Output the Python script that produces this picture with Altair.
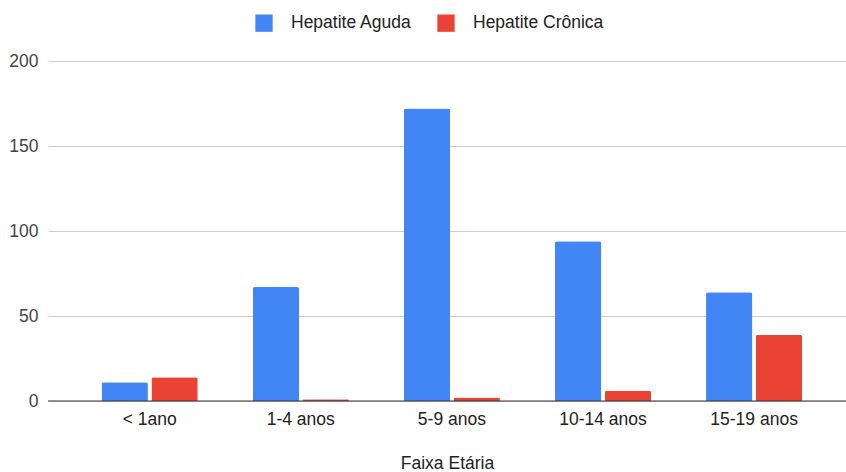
import altair as alt
import pandas as pd

# Age groups and case counts per hepatitis type
faixas = ["< 1ano", "1-4 anos", "5-9 anos", "10-14 anos", "15-19 anos"]
aguda = [11, 67, 172, 94, 64]
cronica = [14, 1, 2, 6, 39]
series = ["Hepatite Aguda", "Hepatite Crônica"]
colors = ["#4285F4", "#EA4335"]

rows = []
for f, a, c in zip(faixas, aguda, cronica):
    rows.append({"faixa": f, "tipo": series[0], "casos": a})
    rows.append({"faixa": f, "tipo": series[1], "casos": c})
df = pd.DataFrame(rows)

FONT = "Liberation Sans"
FS = 17.5

chart = (
    alt.Chart(df)
    .mark_bar(cornerRadiusTopLeft=2, cornerRadiusTopRight=2)
    .encode(
        x=alt.X(
            "faixa:N",
            sort=faixas,
            title="Faixa Etária",
            scale=alt.Scale(paddingInner=0.364, paddingOuter=0.3225, align=0.55),
            axis=alt.Axis(
                labelAngle=0,
                ticks=False,
                domain=False,
                grid=False,
                labelPadding=9,
                titlePadding=27,
                labelFontSize=FS,
                titleFontSize=FS,
                labelColor="#222222",
                titleColor="#222222",
                titleFontWeight="normal",
            ),
        ),
        xOffset=alt.XOffset(
            "tipo:N", sort=series, scale=alt.Scale(paddingInner=0.07)
        ),
        y=alt.Y(
            "casos:Q",
            title=None,
            scale=alt.Scale(domain=[0, 200]),
            axis=alt.Axis(
                values=[0, 50, 100, 150, 200],
                ticks=False,
                domain=False,
                labelPadding=10,
                labelFontSize=FS,
                labelColor="#444444",
                gridColor="#cccccc",
                gridWidth=1,
            ),
        ),
        color=alt.Color(
            "tipo:N",
            sort=series,
            scale=alt.Scale(domain=series, range=colors),
            legend=alt.Legend(
                title=None,
                orient="none",
                direction="horizontal",
                legendX=207,
                legendY=-47,
                symbolType="square",
                symbolSize=300,
                symbolStrokeWidth=0,
                labelFontSize=FS,
                labelColor="#222222",
                labelOffset=18,
                columnPadding=25,
            ),
        ),
    )
)

baseline = (
    alt.Chart(pd.DataFrame({"y": [0]}))
    .mark_rule(color="#333333", strokeWidth=1)
    .encode(y="y:Q")
)

final = (
    alt.layer(chart, baseline)
    .properties(width=798, height=340)
    .configure(font=FONT, padding={"left": 48, "top": 61, "right": 0, "bottom": 71})
    .configure_view(stroke=None)
    .properties(autosize=alt.AutoSizeParams(type="none"))
)

final.save("out.html", embed_options={"renderer": "svg", "actions": False})
